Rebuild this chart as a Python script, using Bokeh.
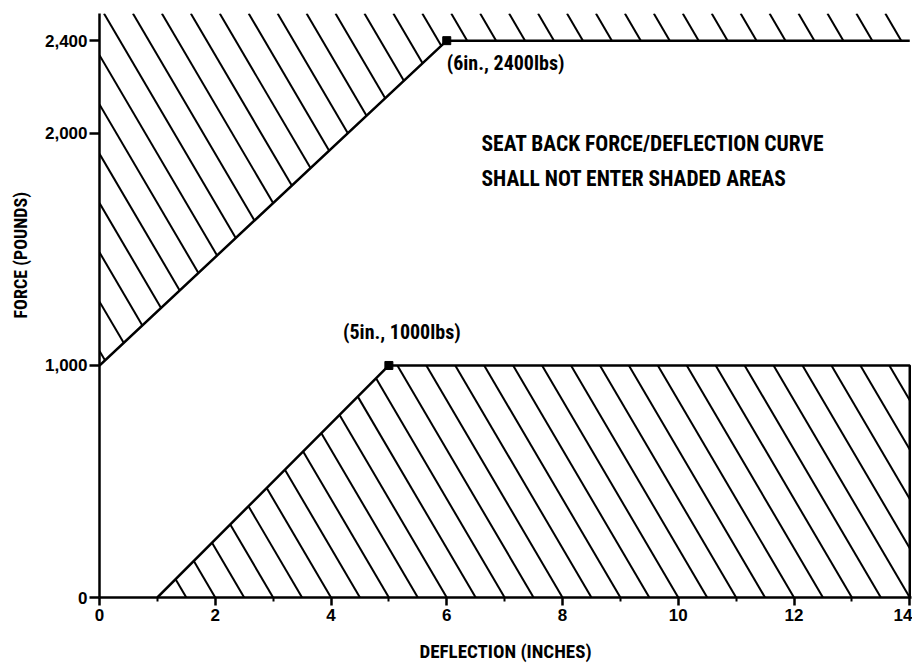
import numpy as np
from bokeh.plotting import figure
from bokeh.models import Range1d, FixedTicker, NumeralTickFormatter, Label, Title
from bokeh.embed import file_html
from bokeh.resources import INLINE

# ---- data ----
upper_x = [0, 6, 14]            # deflection (in) of upper shaded-area boundary
upper_y = [1000, 2400, 2400]    # force (lbs)
lower_x = [1, 5, 14, 14]        # deflection (in) of lower shaded-area boundary
lower_y = [0, 1000, 1000, 0]    # force (lbs)
point_x = [6, 5]
point_y = [2400, 1000]
point_labels = ["(6in., 2400lbs)", "(5in., 1000lbs)"]
x_ticks = [0, 2, 4, 6, 8, 10, 12, 14]
x_minor_ticks = [1, 3, 5, 7, 9, 11, 13]
y_ticks = [0, 1000, 2000, 2400]
note_lines = ["SEAT BACK FORCE/DEFLECTION CURVE", "SHALL NOT ENTER SHADED AREAS"]
x_title = "DEFLECTION (INCHES)"
y_title = "FORCE (POUNDS)"

X_END = 14.03
Y_END = 2517
HATCH_SLOPE = 425     # lbs per inch (steep diagonal hatch)
HATCH_STEP = 0.5      # inches between hatch lines

NARROW = "'Roboto Condensed', 'DejaVu Sans Condensed', 'Liberation Sans Narrow', 'Liberation Sans', sans-serif"
WIDE = "'Liberation Sans', sans-serif"


def hatch(poly_x, poly_y):
    px = np.asarray(poly_x, float)
    py = np.asarray(poly_y, float)
    n = len(px)
    xs_out, ys_out = [], []
    kmax = int((X_END + Y_END / HATCH_SLOPE) / HATCH_STEP) + 3
    for k in range(-2, kmax):
        x0 = k * HATCH_STEP + 1e-7
        F = py + HATCH_SLOPE * (px - x0)
        hits = []
        for i in range(n):
            j = (i + 1) % n
            if (F[i] > 0) != (F[j] > 0):
                u = F[i] / (F[i] - F[j])
                hits.append(px[i] + u * (px[j] - px[i]))
        hits.sort()
        for a, b in zip(hits[0::2], hits[1::2]):
            xs_out.append([a, b])
            ys_out.append([HATCH_SLOPE * (x0 - a), HATCH_SLOPE * (x0 - b)])
    return xs_out, ys_out


p = figure(width=912, height=665,
           x_range=Range1d(0, X_END), y_range=Range1d(0, Y_END),
           output_backend="svg", toolbar_location=None,
           min_border_left=99, min_border_right=1,
           min_border_top=13, min_border_bottom=68)
p.outline_line_color = None
p.grid.visible = False
p.background_fill_color = "white"
p.border_fill_color = "white"

# hatched areas
ux = upper_x + [upper_x[-1], upper_x[0]]
uy = upper_y + [Y_END, Y_END]
hx, hy = hatch(ux, uy)
lx, ly = hatch(lower_x, lower_y)
p.multi_line(hx + lx, hy + ly, line_color="black", line_width=2)

# boundaries
p.line(upper_x, upper_y, line_color="black", line_width=2.5)
p.line(lower_x, lower_y, line_color="black", line_width=2.5)
p.scatter(point_x, point_y, marker="square", size=8, color="black")

# axes
xa = p.xaxis[0]
ya = p.yaxis[0]
for ax in (xa, ya):
    ax.axis_line_width = 2.5
    ax.axis_line_color = "black"
    ax.major_tick_in = 0
    ax.major_tick_line_width = 2.5
    ax.major_tick_line_color = "black"
    ax.major_label_text_font = WIDE
    ax.major_label_text_font_style = "bold"
    ax.major_label_text_color = "black"

xa.ticker = FixedTicker(ticks=x_ticks, minor_ticks=x_minor_ticks)
xa.major_tick_out = 8
xa.minor_tick_in = 0
xa.minor_tick_out = 4
xa.minor_tick_line_width = 2
xa.minor_tick_line_color = "black"
xa.major_label_text_font_size = "17px"
xa.major_label_standoff = 3
xa.axis_label = x_title
xa.axis_label_text_font = NARROW
xa.axis_label_text_font_style = "bold"
xa.axis_label_text_font_size = "19px"
xa.axis_label_text_color = "black"
xa.axis_label_standoff = 16

ya.ticker = FixedTicker(ticks=y_ticks)
ya.formatter = NumeralTickFormatter(format="0,0")
ya.major_tick_out = 10
ya.minor_tick_line_color = None
ya.major_label_text_font_size = "17px"
ya.major_label_standoff = 2

# y title, placed as in the reference (below the frame centre)
p.add_layout(Title(text=y_title, align="left", offset=279,
                   vertical_align="top",
                   text_font=NARROW, text_font_style="bold",
                   text_font_size="18px", text_color="black",
                   standoff=18), "left")

# point annotations
p.add_layout(Label(x=point_x[0], y=point_y[0], text=point_labels[0],
                   x_offset=0, y_offset=-22, text_align="left",
                   text_baseline="alphabetic", text_font=NARROW,
                   text_font_style="bold", text_font_size="20px",
                   text_color="black"))
p.add_layout(Label(x=point_x[1], y=point_y[1], text=point_labels[1],
                   x_offset=13, y_offset=33, text_align="center",
                   text_baseline="alphabetic", text_font=NARROW,
                   text_font_style="bold", text_font_size="20px",
                   text_color="black"))

# note
for line, yv in zip(note_lines, [1955, 1808]):
    p.add_layout(Label(x=6.6, y=yv, text=line, text_align="left",
                       text_baseline="alphabetic", text_font=NARROW,
                       text_font_style="bold", text_font_size="21.5px",
                       text_color="black"))

open("out.html", "w").write(file_html(p, INLINE))
